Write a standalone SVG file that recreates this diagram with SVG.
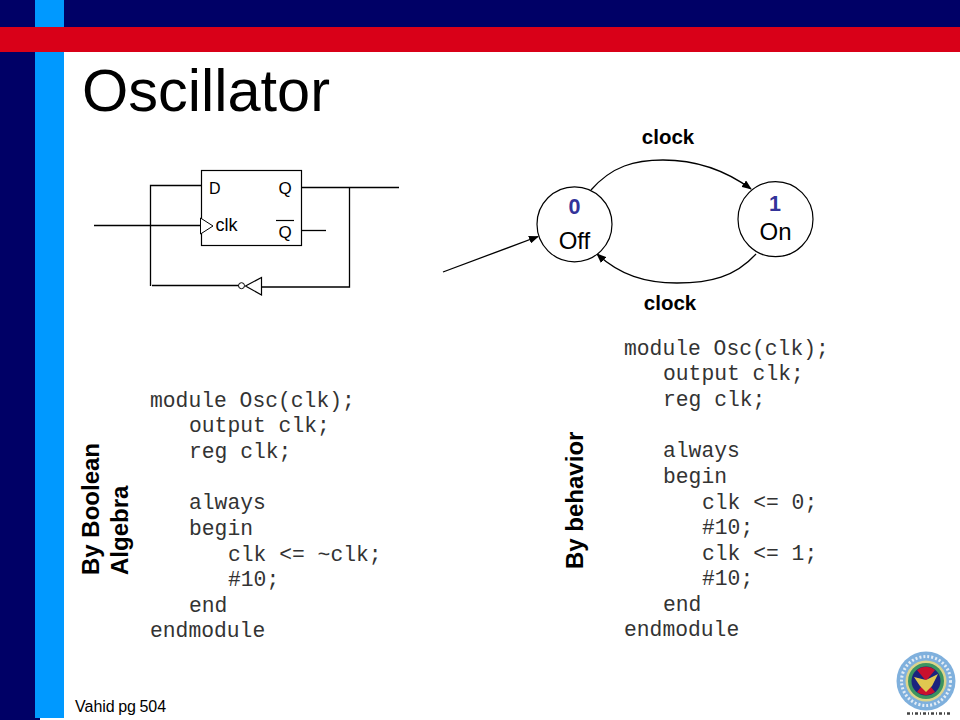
<svg xmlns="http://www.w3.org/2000/svg" width="960" height="720" viewBox="0 0 960 720">
<style>
.s{font-family:"Liberation Sans",Arial,sans-serif;fill:#000}
.c{font-family:"Liberation Mono","Courier New",monospace;font-size:21.33px;fill:#333}
.b{font-weight:bold}
.n{fill:#333399}
.l{fill:none;stroke:#000;stroke-width:1.3}
</style>
<defs>
<marker id="a" markerWidth="10" markerHeight="8" refX="9" refY="4" orient="auto" markerUnits="userSpaceOnUse"><path d="M0 0L10 4L0 8Z" fill="#000"/></marker>
</defs>
<rect width="960" height="720" fill="#fff"/>
<g id="frame">
<rect x="0" y="0" width="960" height="27" fill="#000066"/>
<rect x="0" y="52" width="35" height="668" fill="#000066"/>
<rect x="35" y="718" width="5" height="2" fill="#000066"/>
<rect x="35" y="0" width="29" height="718" fill="#0099ff"/>
<rect x="0" y="27" width="960" height="25" fill="#d90018"/>
</g>
<text class="s" x="82" y="111" font-size="59.500">Oscillator</text>
<g id="connectors">
<path class="l" d="M201 185.500H150.500V286"/>
<path class="l" d="M152 285.500H239"/>
<path class="l" d="M94 225.500H201"/>
<path class="l" d="M302 187.500H399"/>
<path class="l" d="M349.500 187.500V287H262"/>
<path class="l" d="M302 230.500H326"/>
<path class="l" marker-end="url(#a)" d="M591 190C612 166 635 160 663 160C695 160 725 170 751 189"/>
<path class="l" marker-end="url(#a)" d="M756 254C735 277 710 283 677 283C645 283 620 275 597 254"/>
<path class="l" marker-end="url(#a)" d="M443 272L538 236.500"/>
</g>
<g id="flipflop">
<rect x="201.500" y="170.500" width="100" height="75" fill="#fff" stroke="#000" stroke-width="1.200"/>
<path d="M200.500 218L213 226L200.500 234Z" fill="#fff" stroke="#000"/>
<text class="s" x="209" y="194" font-size="16">D</text>
<text class="s" x="278.500" y="194" font-size="17">Q</text>
<text class="s" x="215.500" y="231" font-size="18">clk</text>
<text class="s" x="278.500" y="238" font-size="17">Q</text>
<path d="M276 220.500H294" stroke="#000" stroke-width="1.200"/>
</g>
<g id="inverter">
<path d="M245.500 286L261.500 277.500V295Z" fill="#fff" stroke="#000" stroke-width="1.200"/>
<circle cx="241.500" cy="285.700" r="3" fill="#fff" stroke="#000"/>
</g>
<g id="state-off">
<circle cx="574.500" cy="224.300" r="37.500" fill="#fff" stroke="#000" stroke-width="1.200"/>
<text class="s b n" x="574.500" y="214" font-size="21.500" text-anchor="middle">0</text>
<text class="s" x="574.500" y="249" font-size="24" text-anchor="middle">Off</text>
</g>
<g id="state-on">
<circle cx="775.500" cy="219.200" r="37.500" fill="#fff" stroke="#000" stroke-width="1.200"/>
<text class="s b n" x="775" y="211" font-size="21.500" text-anchor="middle">1</text>
<text class="s" x="775.500" y="240" font-size="24" text-anchor="middle">On</text>
</g>
<text class="s b" x="668" y="144" font-size="20.500" text-anchor="middle">clock</text>
<text class="s b" x="670" y="310" font-size="20.500" text-anchor="middle">clock</text>
<g>
<text class="c" x="150" y="407">module Osc(clk);</text>
<text class="c" x="189" y="432">output clk;</text>
<text class="c" x="189" y="458">reg clk;</text>
<text class="c" x="189" y="509">always</text>
<text class="c" x="189" y="535">begin</text>
<text class="c" x="228" y="561">clk &lt;= ~clk;</text>
<text class="c" x="228" y="586">#10;</text>
<text class="c" x="189" y="612">end</text>
<text class="c" x="150" y="637">endmodule</text>
<text class="c" x="624" y="355">module Osc(clk);</text>
<text class="c" x="663" y="380">output clk;</text>
<text class="c" x="663" y="406">reg clk;</text>
<text class="c" x="663" y="457">always</text>
<text class="c" x="663" y="483">begin</text>
<text class="c" x="702" y="509">clk &lt;= 0;</text>
<text class="c" x="702" y="534">#10;</text>
<text class="c" x="702" y="560">clk &lt;= 1;</text>
<text class="c" x="702" y="585">#10;</text>
<text class="c" x="663" y="611">end</text>
<text class="c" x="624" y="636">endmodule</text>
</g>
<text class="s b" transform="translate(99 575) rotate(-90)" font-size="24">By Boolean</text>
<text class="s b" transform="translate(128 575) rotate(-90)" font-size="24">Algebra</text>
<text class="s b" transform="translate(583 569) rotate(-90)" font-size="24">By behavior</text>
<text class="s" x="75" y="712" font-size="16" word-spacing="-1" fill="#222">Vahid pg 504</text>
<g id="logo">
<circle cx="926" cy="681" r="29.500" fill="#7fb0dd"/>
<circle cx="926" cy="681" r="24.500" fill="none" stroke="#e3ecf5" stroke-width="3" stroke-dasharray="2 2"/>
<circle cx="926" cy="681" r="20.500" fill="#dcd48c"/>
<circle cx="926" cy="681" r="18" fill="#3c9460"/>
<circle cx="926" cy="681" r="14.500" fill="#1a237e"/>
<path d="M917 670A14.500 14.500 0 0 1 935 670L926 681Z" fill="#c8102e"/>
<path d="M917 692A14.500 14.500 0 0 0 935 692L926 681Z" fill="#c8102e"/>
<path d="M914 677L926 680L938 674L932 686L926 692L920 686Z" fill="#e0c850"/>
<path d="M907 713.500H951" stroke="#444" stroke-width="2.500" stroke-dasharray="3 2 1 2"/>
</g>
</svg>
